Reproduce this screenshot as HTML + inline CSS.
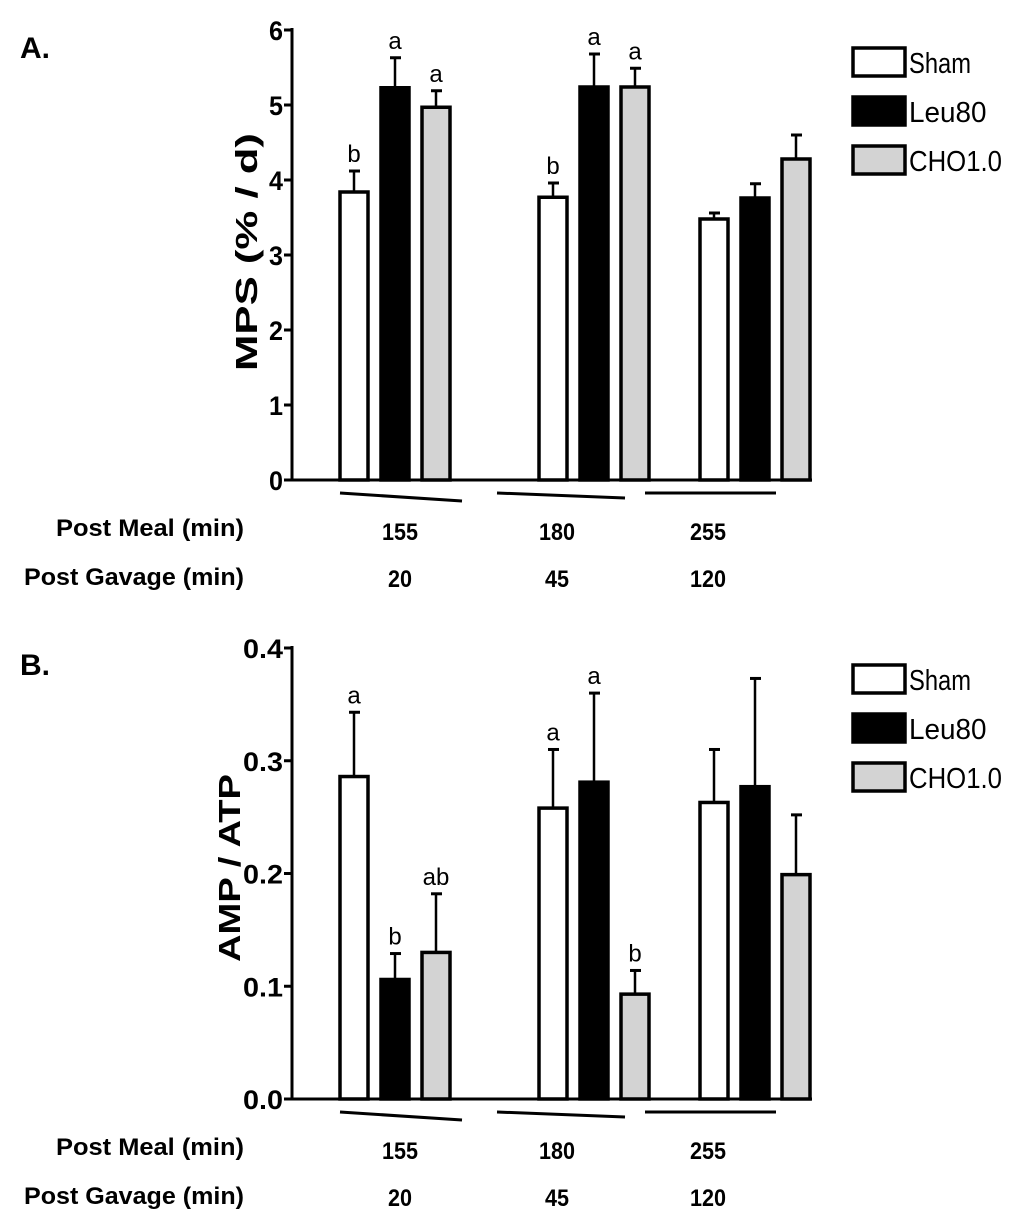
<!DOCTYPE html>
<html><head><meta charset="utf-8"><style>
html,body{margin:0;padding:0;background:#fff;}
svg{display:block;font-family:"Liberation Sans",Arial,sans-serif;}
</style></head><body>
<svg id="fig" width="1024" height="1219" viewBox="0 0 1024 1219" xmlns="http://www.w3.org/2000/svg"></svg>
<script>
const groups=["155","180","255"];
const gavage=["20","45","120"];
const seriesNames=["Sham","Leu80","CHO1.0"];
const fills=["#ffffff","#000000","#d3d3d3"];
const mpsSham=[3.84,3.77,3.48];
const mpsLeu=[5.23,5.24,3.76];
const mpsCho=[4.97,5.24,4.28];
const mpsShamErr=[0.28,0.19,0.08];
const mpsLeuErr=[0.40,0.44,0.19];
const mpsChoErr=[0.22,0.25,0.32];
const mpsLetters=[["b","a","a"],["b","a","a"],["","",""]];
const mpsTicks=["0","1","2","3","4","5","6"];
const ampSham=[0.286,0.258,0.263];
const ampLeu=[0.106,0.281,0.277];
const ampCho=[0.130,0.093,0.199];
const ampShamErr=[0.057,0.052,0.047];
const ampLeuErr=[0.023,0.079,0.096];
const ampChoErr=[0.052,0.021,0.053];
const ampLetters=[["a","b","ab"],["a","a","b"],["","",""]];
const ampTicks=["0.0","0.1","0.2","0.3","0.4"];

const NS="http://www.w3.org/2000/svg";
const svg=document.getElementById('fig');
function mk(tag,attrs,parent,text){const e=document.createElementNS(NS,tag);for(const k in attrs)e.setAttribute(k,attrs[k]);if(text!==undefined)e.textContent=text;(parent||svg).appendChild(e);return e;}

const ulStart=[340,497,645], ulEnd=[462,625,776], ulDrop=[8,5,0];

function panel(o){
  const g=mk('g',{});
  
  
  const y=v=>o.y0-(v/o.max)*(o.y0-o.yTop);
  const ax=o.ax;
  const pl=mk('text',{x:20,y:o.letterY,'font-size':30,'font-weight':'bold'},g,o.letter);
  
  
  const ya=mk('line',{x1:ax,y1:o.yTop-2,x2:ax,y2:o.y0,stroke:'#000','stroke-width':3},g);
  
  
  o.ticks.forEach((t,i)=>{
    const v=o.max*i/(o.ticks.length-1);
    mk('line',{x1:ax-8,y1:y(v),x2:ax,y2:y(v),stroke:'#000','stroke-width':3},g);
    const tl=mk('text',{x:ax-9,y:y(v)+10,'font-size':27,'text-anchor':'end','font-weight':'bold',textLength:t.length>1?40:14,lengthAdjust:'spacingAndGlyphs'},g,t);
    
    
  });
  const xa=mk('line',{x1:ax-8,y1:o.y0,x2:812,y2:o.y0,stroke:'#000','stroke-width':3},g);
  
  
  const yt=mk('text',{x:0,y:0,'font-size':31,'font-weight':'bold','text-anchor':'middle',textLength:o.titleLen,lengthAdjust:'spacingAndGlyphs',transform:`translate(${o.titleX},${o.titleY}) rotate(-90)`},g,o.title);
  
  
  const starts=[340,539,700];
  const vals=[o.sham,o.leu,o.cho], errs=[o.shamE,o.leuE,o.choE];
  groups.forEach((gr,gi)=>{
    for(let s=0;s<3;s++){
      const x=starts[gi]+s*41, w=28;
      const top=y(vals[s][gi]), et=y(vals[s][gi]+errs[s][gi]);
      const el=mk('line',{x1:x+w/2,y1:et,x2:x+w/2,y2:top,stroke:'#000','stroke-width':2.5},g);
      
      
      mk('line',{x1:x+w/2-5,y1:et,x2:x+w/2+6,y2:et,stroke:'#000','stroke-width':3},g);
      const r=mk('rect',{x:x,y:top,width:w,height:o.y0-top,fill:fills[s],stroke:'#000','stroke-width':3.5},g);
      
      
      const L=o.letters[gi][s];
      if(L){const lt=mk('text',{x:x+w/2,y:et-9,'font-size':24,'text-anchor':'middle'},g,L);
        
        }
    }
    const ul=mk('line',{x1:ulStart[gi],y1:o.y0+13,x2:ulEnd[gi],y2:o.y0+13+ulDrop[gi],stroke:'#000','stroke-width':3},g);
    
    
    const cx=[400,557,708][gi];
    const n1=mk('text',{x:cx,y:o.y0+60,'font-size':24,'font-weight':'bold','text-anchor':'middle',textLength:gr.length*12,lengthAdjust:'spacingAndGlyphs'},g,gr);
    
    
    const gv=gavage[gi];
    const n2=mk('text',{x:cx,y:o.y0+107,'font-size':24,'font-weight':'bold','text-anchor':'middle',textLength:gv.length*12,lengthAdjust:'spacingAndGlyphs'},g,gv);
    
    
  });
  const r1=mk('text',{x:56,y:o.y0+56,'font-size':24,'font-weight':'bold',textLength:188,lengthAdjust:'spacingAndGlyphs'},g,'Post Meal (min)');
  
  
  const r2=mk('text',{x:24,y:o.y0+105,'font-size':24,'font-weight':'bold',textLength:220,lengthAdjust:'spacingAndGlyphs'},g,'Post Gavage (min)');
  
  
  seriesNames.forEach((n,i)=>{
    const ly=o.legY+i*49;
    const lg=mk('g',{},g);
    
    
    mk('rect',{x:853,y:ly,width:52,height:28,fill:fills[i],stroke:'#000','stroke-width':3.5},lg);
    mk('text',{x:909,y:ly+25,'font-size':29,textLength:n.length*15.5,lengthAdjust:'spacingAndGlyphs'},lg,n);
  });
}
panel({name:'panel-a-mps',letter:'A.',letterY:58,ax:292,y0:480,yTop:30,max:6,ticks:mpsTicks,title:'MPS (% / d)',titleX:257,titleY:252,titleLen:238,
  sham:mpsSham,leu:mpsLeu,cho:mpsCho,shamE:mpsShamErr,leuE:mpsLeuErr,choE:mpsChoErr,letters:mpsLetters,legY:48});
panel({name:'panel-b-amp-atp',letter:'B.',letterY:675,ax:292,y0:1099,yTop:648,max:0.4,ticks:ampTicks,title:'AMP / ATP',titleX:240,titleY:868,titleLen:188,
  sham:ampSham,leu:ampLeu,cho:ampCho,shamE:ampShamErr,leuE:ampLeuErr,choE:ampChoErr,letters:ampLetters,legY:665});
</script>
</body></html>
